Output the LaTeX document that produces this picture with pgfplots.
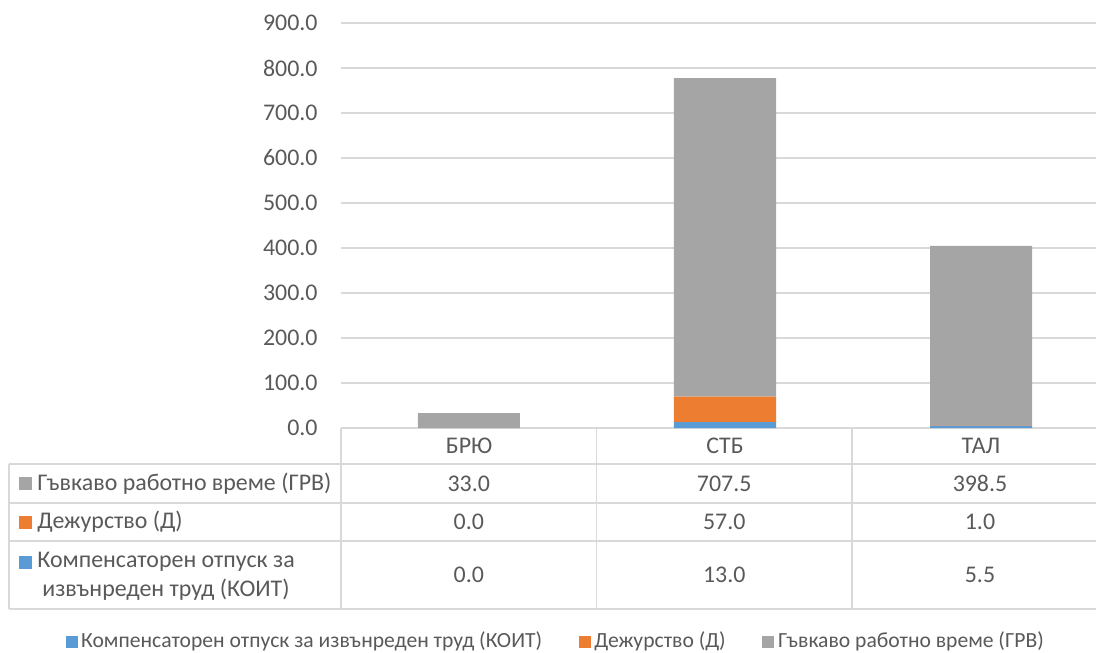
\documentclass[border=0pt]{standalone}
\usepackage{pgfplots}
\pgfplotsset{compat=1.18}
\usepackage{fontspec}
\setmainfont{Carlito}
\definecolor{koit}{HTML}{5B9BD5}
\definecolor{dezh}{HTML}{ED7D31}
\definecolor{grv}{HTML}{A5A5A5}
\definecolor{txt}{HTML}{595959}
\definecolor{gridc}{HTML}{D9D9D9}
\begin{document}
\fontsize{12}{14.4}\selectfont
\begin{tikzpicture}
\path[use as bounding box] (-170.5bp,-112.5bp) rectangle (377.5bp,214bp);
\begin{axis}[
    at={(0,0)}, anchor=south west,
    scale only axis, width=384bp, height=202.5bp,
    ybar stacked, bar width=51bp,
    xmin=-0.5, xmax=2.5, ymin=0, ymax=900,
    enlargelimits=false,
    xtick={0,1,2}, xticklabels={БРЮ,СТБ,ТАЛ},
    ytick={0,100,...,900},
    axis line style={draw=none},
    major tick length=0pt,
    ymajorgrids=true, xmajorgrids=false,
    grid style={color=gridc, line width=0.75bp},
    /pgf/number format/assume math mode=true,
    /pgf/number format/.cd, fixed, fixed zerofill, precision=1, /pgfplots/.cd,
    ticklabel style={font=\fontsize{12}{14.4}\selectfont, text=txt},
    yticklabel style={anchor=east, inner sep=0pt, xshift=-11.5bp},
    xticklabel style={anchor=center, yshift=-9bp},
    legend columns=3,
    legend style={at={(0.2806,-0.528)}, anchor=center, draw=none, fill=none,
        font=\fontsize{10.85}{13}\selectfont, text=txt,
        /tikz/every even column/.append style={column sep=16.5bp},
        nodes={inner xsep=1.8bp}},
    legend image code/.code={\path[#1, draw=none] (0bp,-3bp) rectangle (6bp,3bp);},
]
\addplot[fill=koit, draw=none] coordinates {(0,0) (1,13.0) (2,5.5)};
\addlegendentry{Компенсаторен отпуск за извънреден труд (КОИТ)}
\addplot[fill=dezh, draw=none] coordinates {(0,0) (1,57.0) (2,1.0)};
\addlegendentry{Дежурство (Д)}
\addplot[fill=grv, draw=none] coordinates {(0,33.0) (1,707.5) (2,398.5)};
\addlegendentry{Гъвкаво работно време (ГРВ)}
\end{axis}
% data table
\begin{scope}[draw=gridc, line width=0.75bp]
\foreach \y in {-18,-37.5,-56.5,-90.5} \draw (-166bp,\y bp) -- (384bp,\y bp);
\draw (-166bp,-18bp) -- (-166bp,-90.5bp);
\foreach \x in {0,127.75,255.5,383.5} \draw (\x bp,0bp) -- (\x bp,-90.5bp);
\end{scope}
\begin{scope}[text=txt]
\fill[grv] (-161bp,-30.75bp) rectangle (-154.5bp,-24.25bp);
\node[anchor=west, inner sep=0pt] at (-152bp,-27.75bp) {Гъвкаво работно време (ГРВ)};
\fill[dezh] (-161bp,-50.25bp) rectangle (-154.5bp,-43.75bp);
\node[anchor=west, inner sep=0pt] at (-152bp,-47bp) {Дежурство (Д)};
\fill[koit] (-161bp,-70.25bp) rectangle (-154.5bp,-63.75bp);
\node[anchor=west, inner sep=0pt] at (-152bp,-67bp) {Компенсаторен отпуск за};
\node[anchor=west, inner sep=0pt] at (-149.5bp,-81bp) {извънреден труд (КОИТ)};
\foreach \x/\a/\b/\c in {63.9/33.0/0.0/0.0, 191.6/707.5/57.0/13.0, 319.5/398.5/1.0/5.5} {
  \node at (\x bp,-27.75bp) {\a};
  \node at (\x bp,-47bp) {\b};
  \node at (\x bp,-73.5bp) {\c};
}
\end{scope}
\end{tikzpicture}
\end{document}
